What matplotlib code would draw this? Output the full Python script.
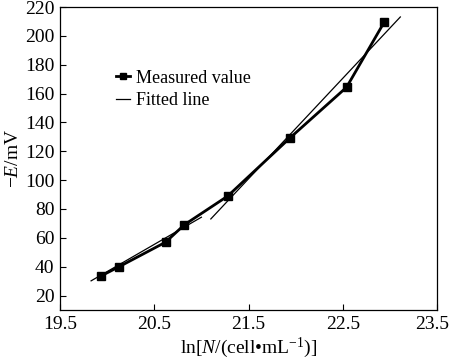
import matplotlib
matplotlib.use("Agg")
import matplotlib.pyplot as plt
from matplotlib.transforms import ScaledTranslation

plt.rcParams['font.family'] = ['Liberation Serif', 'DejaVu Serif']
plt.rcParams['mathtext.fontset'] = 'custom'
plt.rcParams['mathtext.rm'] = 'Liberation Serif'
plt.rcParams['mathtext.it'] = 'Liberation Serif:italic'

# Measured data
ln_n = [19.93, 20.13, 20.62, 20.82, 21.28, 21.94, 22.54, 22.94]
neg_e = [33.4, 40.1, 57.0, 69.1, 89.0, 129.3, 164.4, 209.6]

# Fitted line segments (endpoints)
fit1_x = [19.83, 21.00]
fit1_y = [30.2, 74.3]
fit2_x = [21.10, 23.11]
fit2_y = [73.1, 213.1]

x_ticks = [19.5, 20.5, 21.5, 22.5, 23.5]
y_ticks = [20, 40, 60, 80, 100, 120, 140, 160, 180, 200, 220]

fig = plt.figure(figsize=(4.5, 3.61), dpi=100)
ax = fig.add_axes([0.1333, 0.1413, 0.838, 0.8393])

ax.plot(ln_n, neg_e, color='black', lw=2.0, marker='s', ms=6,
        label='Measured value')
ax.plot(fit1_x, fit1_y, color='black', lw=0.9, label='Fitted line')
ax.plot(fit2_x, fit2_y, color='black', lw=0.9)

ax.set_xlim(19.5, 23.5)
ax.set_ylim(10, 220)
ax.set_xticks(x_ticks)
ax.set_xticklabels([f'{v:.1f}' for v in x_ticks])
ax.set_yticks(y_ticks)
ax.tick_params(direction='in', length=4, width=0.8, labelsize=14,
               top=False, right=False, pad=4)
for s in ax.spines.values():
    s.set_linewidth(0.9)

# nudge the last x tick label so it stays inside the figure
last = ax.get_xticklabels()[-1]
last.set_transform(last.get_transform() + ScaledTranslation(-5/100, 0, fig.dpi_scale_trans))

ax.set_xlabel(r'ln[$\mathit{N}$/(cell•mL$^{-1}$)]', fontsize=14, labelpad=2)
ax.set_ylabel(r'−$\mathit{E}$/mV', fontsize=14, labelpad=2)

ax.legend(loc='upper left', bbox_to_anchor=(0.115, 0.835), frameon=False,
          fontsize=13, handlelength=0.75, handletextpad=0.35,
          labelspacing=0.3, borderpad=0.2, markerscale=0.8)

fig.savefig('out.png', dpi=100)
